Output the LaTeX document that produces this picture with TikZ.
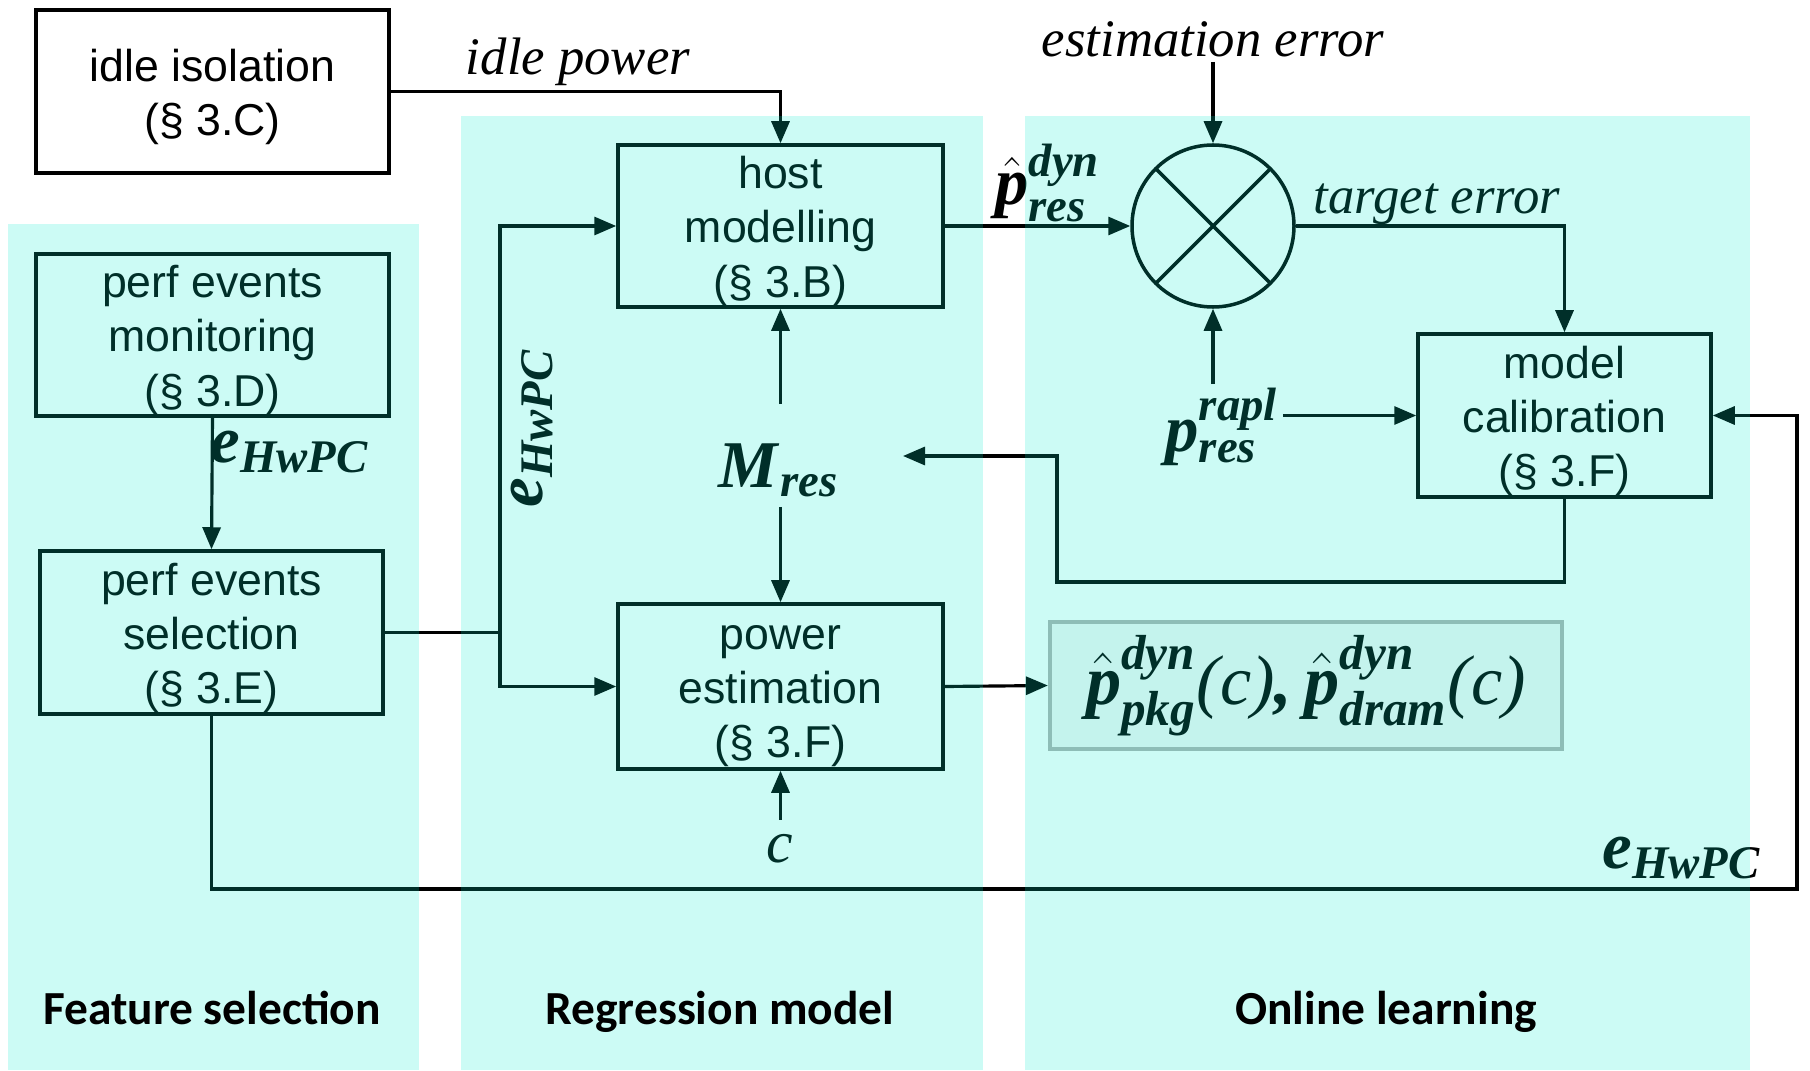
\documentclass[tikz,border=0pt]{standalone}
\usepackage{fontspec}
\usepackage{amsmath}
\setmainfont{Liberation Serif}
\newfontfamily\boxfont{Liberation Sans}
\newfontfamily\titlefont{Carlito}
\usetikzlibrary{arrows.meta, positioning, calc}
\newcommand{\mv}[1]{\textbf{\textit{#1}}}
\newcommand{\tp}{\rule{0pt}{12.3pt}}

\begin{document}
\begin{tikzpicture}[
        block/.style={rectangle, draw, line width=1pt, align=center, minimum width=3.25cm, minimum height=1.62cm, inner sep=0pt,
            font=\boxfont\fontsize{12.7}{15.4}\selectfont},
        mix/.style={circle, draw, line width=1pt, minimum size=1.62cm, inner sep=0pt,
            path picture={\draw[line width=1pt] (path picture bounding box.north west) -- (path picture bounding box.south east)
                (path picture bounding box.north east) -- (path picture bounding box.south west);}},
        result/.style={rectangle, draw=gray!60, line width=1.2pt, fill=gray!7, minimum width=5.12cm, minimum height=1.27cm, font=\fontsize{20}{24}\selectfont},
        lab/.style={font=\fontsize{15}{18}\selectfont\itshape, inner sep=1pt},
        mlab/.style={font=\fontsize{19}{22}\selectfont, inner sep=1pt},
        arr/.style={line width=0.9pt, -{Triangle[length=2.2mm,width=1.8mm]}},
        line/.style={line width=0.9pt},
        panel/.style={fill={rgb,255:red,0;green,235;blue,205}, fill opacity=0.2},
        title/.style={font=\titlefont\bfseries\fontsize{13.5}{16}\selectfont, anchor=base}
    ]
    \useasboundingbox (0,0) rectangle (18.1,10.7);

    \node [block, minimum width=3.53cm, minimum height=1.63cm] (idle) at (2.125,9.785) {\tp idle isolation\\(§ 3.C)};
    \node [block, minimum width=3.53cm] (monit) at (2.125,7.35) {\tp perf events\\monitoring\\(§ 3.D)};
    \node [block, minimum width=3.43cm, minimum height=1.63cm] (select) at (2.115,4.375) {\tp perf events\\selection\\(§ 3.E)};
    \node [block] (host) at (7.805,8.44) {\tp host\\modelling\\(§ 3.B)};
    \node [block, minimum height=1.65cm] (powest) at (7.805,3.835) {\tp power\\estimation\\(§ 3.F)};
    \node [block, minimum width=2.93cm, minimum height=1.63cm] (calib) at (15.645,6.545) {\tp model\\calibration\\(§ 3.F)};
    \node [mix] (sum) at (12.13,8.44) {};
    \node [result] (out) at (13.06,3.845) {$\hat{\mv{p}}^{\mv{dyn}}_{\mv{pkg}}\textit{(c)}\mv{,}\,\hat{\mv{p}}^{\mv{dyn}}_{\mv{dram}}\textit{(c)}$};

    \node [lab, anchor=base] (idlepow) at (5.78,9.95) {idle power};
    \node [lab, anchor=base] (esterr) at (12.13,10.13) {estimation error};
    \node [lab, anchor=base] (tgterr) at (14.37,8.56) {target error};
    \node [mlab] (phat) at (10.48,8.87) {$\hat{\mv{p}}^{\mv{dyn}}_{\mv{res}}$};
    \node [mlab] (prapl) at (12.22,6.43) {$\mv{p}^{\mv{rapl}}_{\mv{res}}$};
    \node [mlab] (mres) at (7.79,6.0) {$\mv{M}_{\mv{res}}$};
    \node [lab, font=\fontsize{17}{20}\selectfont\itshape, inner ysep=4pt] (cin) at (7.80,2.21) {c};
    \node [mlab] (ehw1) at (2.9,6.18) {$\mv{e}_{\mv{HwPC}}$};
    \node [mlab, rotate=90] (ehw2) at (5.32,6.42) {$\mv{e}_{\mv{HwPC}}$};
    \node [mlab] (ehw3) at (16.82,2.12) {$\mv{e}_{\mv{HwPC}}$};

    \coordinate (split) at (5.0,4.375);
    \coordinate (loopR) at (17.97,1.81);
    \coordinate (fbC) at (10.57,4.88);
    \coordinate (mresin) at (9.03,6.14);

    \draw [arr] (idle.east) -| (host.north);
    \draw [arr] (host.east) -- (sum.west);
    \draw [arr] (esterr.south) -- (sum.north);
    \draw [arr] (sum.east) -| (calib.north);
    \draw [arr] (prapl.north -| sum.south) -- (sum.south);
    \draw [arr] (prapl.east |- calib.west) -- (calib.west);
    \draw [arr] (calib.south) |- (fbC) |- (mresin);
    \draw [arr, shorten <=3.5mm] (host.south |- mres.north) -- (host.south);
    \draw [arr, shorten <=0.6mm] (powest.north |- mres.south) -- (powest.north);
    \draw [arr] (cin.north -| powest.south) -- (powest.south);
    \draw [arr] (monit.south) -- (select.north);
    \draw [line] (select.east) -- (split);
    \draw [arr] (split) |- (host.west);
    \draw [arr] (split) |- (powest.west);
    \draw [arr] (select.south) |- (loopR) |- (calib.east);
    \draw [arr] (powest.east) -- (out.west);

    \fill [panel] (0.08,0) rectangle (4.19,8.46);
    \fill [panel] (4.61,0) rectangle (9.83,9.54);
    \fill [panel] (10.25,0) rectangle (17.50,9.54);

    \node [title] (tfeat) at (2.12,0.46) {Feature selection};
    \node [title] (tregr) at (7.20,0.46) {Regression model};
    \node [title] (tonl) at (13.86,0.46) {Online learning};
\end{tikzpicture}
\end{document}
